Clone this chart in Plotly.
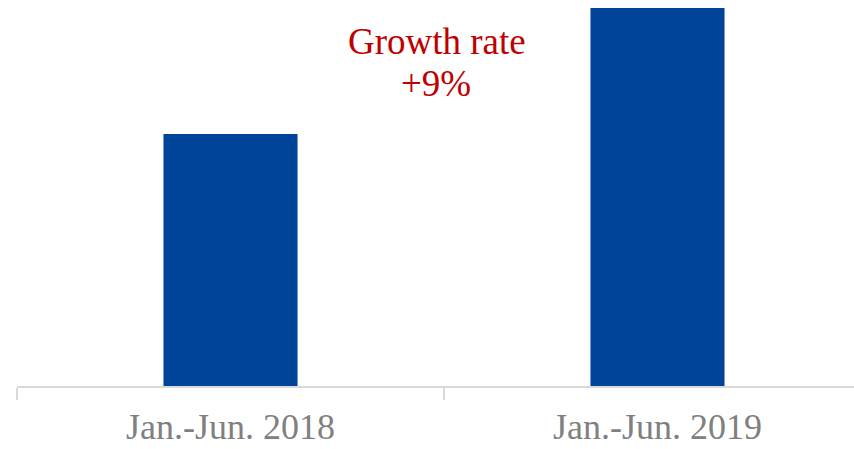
import plotly.graph_objects as go

categories = ["Jan.-Jun. 2018", "Jan.-Jun. 2019"]
values = [100, 109]
growth_label = ["Growth rate", "+9%"]

fig = go.Figure()
fig.add_trace(go.Bar(x=categories, y=values, marker_color="#00449A", marker_line_width=0))

H = 449
W = 854
top_px = 0
bottom_px = 449 - 386
plot_h = H - top_px - bottom_px

def ypaper(px):
    return 1 - (px - top_px) / plot_h

fig.add_annotation(text=growth_label[0], xref="paper", yref="paper", x=(437 - 17) / (W - 17),
                   y=ypaper(42), xanchor="center", yanchor="middle", showarrow=False,
                   font=dict(family="Liberation Serif", size=37, color="#C00000"))
fig.add_annotation(text=growth_label[1], xref="paper", yref="paper", x=(436 - 17) / (W - 17),
                   y=ypaper(83), xanchor="center", yanchor="middle", showarrow=False,
                   font=dict(family="Liberation Serif", size=37, color="#C00000"))

fig.update_layout(
    width=W, height=H,
    margin=dict(l=17, r=0, t=top_px, b=bottom_px, autoexpand=False),
    paper_bgcolor="white", plot_bgcolor="white",
    bargap=0.686,
    showlegend=False,
    xaxis=dict(type="category", range=[-0.5, -0.5 + (W - 17) / 427.0],
               automargin=False,
               showline=True, linecolor="#D9D9D9", linewidth=2,
               ticks="outside", tickson="boundaries", ticklen=12, tickcolor="#D9D9D9", tickwidth=2,
               ticklabelstandoff=8,
               tickfont=dict(family="Liberation Serif", size=36, color="#808080"),
               showgrid=False, zeroline=False),
    yaxis=dict(range=[82, 82 + 386 / 14.0], visible=False, showgrid=False, zeroline=False,
               automargin=False),
)

fig.write_html("out.html")
